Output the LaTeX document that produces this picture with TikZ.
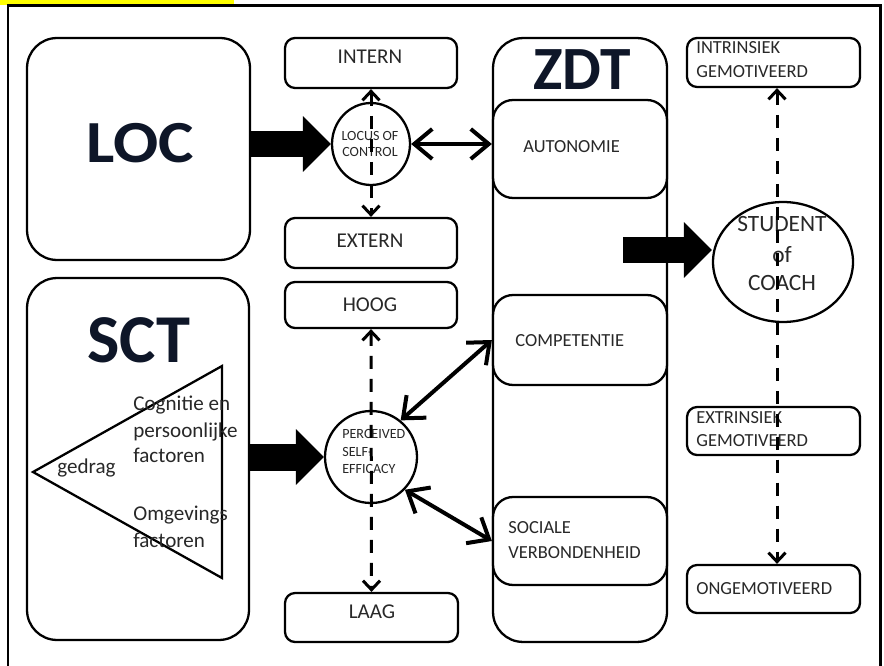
\documentclass[tikz,border=0pt]{standalone}
\usepackage{fontspec}
\usepackage{graphicx}
\setmainfont{Carlito}
\usetikzlibrary{arrows.meta,shapes.geometric}
\definecolor{navy}{RGB}{14,22,40}
\definecolor{txt}{RGB}{40,40,40}
\definecolor{hl}{RGB}{255,255,0}
\begin{document}
\begin{tikzpicture}[x=0.02cm,y=-0.02cm,
  box/.style={draw, line width=1.3pt, rounded corners=0.2cm, fill=white, inner sep=0pt},
  bigbox/.style={draw, line width=1.3pt, rounded corners=0.6cm, fill=white, inner sep=0pt},
  midbox/.style={draw, line width=1.3pt, rounded corners=0.4cm, fill=white, inner sep=0pt},
  circ/.style={draw, line width=1.3pt, ellipse, fill=white, inner sep=0pt},
  lbl/.style={inner sep=0pt, text=txt, font=\fontsize{10.5}{12}\selectfont},
  lblbig/.style={inner sep=0pt, text=txt, font=\fontsize{12}{14}\selectfont},
  lblsmall/.style={inner sep=0pt, text=txt, font=\fontsize{8}{9}\selectfont},
  title/.style={inner sep=0pt, text=navy, font=\bfseries},
  bigarrow/.style={line width=0.54cm, line cap=butt, -{Triangle[length=0.56cm,width=1.12cm,line width=0pt]}},
  dblarrow/.style={line width=0.08cm, {Straight Barb[length=0.36cm,width=0.6cm]}-{Straight Barb[length=0.36cm,width=0.6cm]}},
  dsharrow/.style={line width=0.06cm, dash pattern=on 0.26cm off 0.2cm, {Straight Barb[length=0.18cm,width=0.34cm]}-{Straight Barb[length=0.18cm,width=0.34cm]}}
]
\useasboundingbox (0,0) rectangle (884,665);
\fill[hl] (0,0) rectangle (234,5);
\draw[line width=0.06cm] (8,690) -- (8,5.5) -- (880,5.5) -- (880,690);

% left big boxes
\node[bigbox, minimum width=4.46cm, minimum height=4.44cm] (loc) at (138.5,149) {};
\node[bigbox, minimum width=4.44cm, minimum height=7.24cm] (sct) at (138,459) {};
\node[title, font=\bfseries\fontsize{34}{36}\selectfont] (loct) at (140,143) {\scalebox{1.12}[1]{LOC}};
\node[title, font=\bfseries\fontsize{39}{40}\selectfont] (sctt) at (139,340) {SCT};
\draw[line width=1.3pt] (33,472) -- (222,366) -- (222,578) -- cycle;
\node[lblbig, anchor=base west] (t1) at (133,410) {Cognitie en};
\node[lblbig, anchor=base west] (t2) at (133,437) {persoonlijke};
\node[lblbig, anchor=base west] (t3) at (133,462) {factoren};
\node[lblbig, anchor=base west] (t4) at (57,473) {gedrag};
\node[lblbig, anchor=base west] (t5) at (133,520) {Omgevings};
\node[lblbig, anchor=base west] (t6) at (133,547) {factoren};

% middle column
\node[box, minimum width=3.44cm, minimum height=1.0cm] (intern) at (371,63) {};
\node[box, minimum width=3.44cm, minimum height=1.0cm] (extern) at (371,243) {};
\node[box, minimum width=3.44cm, minimum height=0.92cm] (hoog) at (371,305) {};
\node[box, minimum width=3.46cm, minimum height=0.98cm] (laag) at (371.5,617.5) {};
\node[lblbig] (internt) at (370,57) {INTERN};
\node[lblbig] (externt) at (370,241) {EXTERN};
\node[lblbig] (hoogt) at (370,305) {HOOG};
\node[lblbig] (laagt) at (372,612) {LAAG};

\node[circ, minimum width=1.56cm, minimum height=1.64cm] (locus) at (371,144) {};
\node[lblsmall] (locust1) at (370,135.5) {LOCUS OF};
\node[lblsmall] (locust2) at (370,151.5) {CONTROL};
\node[circ, minimum width=1.84cm, minimum height=1.84cm] (perc) at (371,457) {};
\node[lblsmall, anchor=west] (perct1) at (342,433.5) {PERCEIVED};
\node[lblsmall, anchor=west] (perct2) at (342,451.5) {SELF-};
\node[lblsmall, anchor=west] (perct3) at (342,468.5) {EFFICACY};

% ZDT column
\node[bigbox, minimum width=3.48cm, minimum height=12.08cm] (zdt) at (580,340) {};
\node[title, font=\bfseries\fontsize{35}{36}\selectfont] (zdtt) at (582,70) {ZDT};
\node[midbox, minimum width=3.48cm, minimum height=1.96cm] (auto) at (580,149) {};
\node[midbox, minimum width=3.48cm, minimum height=1.8cm] (comp) at (580,340) {};
\node[midbox, minimum width=3.48cm, minimum height=1.76cm] (soc) at (580,541) {};
\node[lbl, anchor=west] (autot) at (523,147) {AUTONOMIE};
\node[lbl, anchor=west] (compt) at (515,340.5) {COMPETENTIE};
\node[lbl, anchor=west] (soct1) at (508,527.5) {SOCIALE};
\node[lbl, anchor=west] (soct2) at (508,552.5) {VERBONDENHEID};

% right column
\node[box, minimum width=3.46cm, minimum height=0.98cm] (intr) at (773.5,62.5) {};
\node[box, minimum width=3.46cm, minimum height=0.96cm] (extr) at (773.5,431) {};
\node[box, minimum width=3.46cm, minimum height=0.96cm] (onge) at (773.5,589) {};
\node[lbl, anchor=west] (intrt1) at (696,48) {INTRINSIEK};
\node[lbl, anchor=west] (intrt2) at (696,72) {GEMOTIVEERD};
\node[lbl, anchor=west] (extrt1) at (696,417.5) {EXTRINSIEK};
\node[lbl, anchor=west] (extrt2) at (696,440.5) {GEMOTIVEERD};
\node[lbl, anchor=west] (onget) at (696,589) {ONGEMOTIVEERD};

\node[circ, minimum width=2.8cm, minimum height=2.4cm] (stud) at (783,262) {};
\node[inner sep=0pt, text=txt, font=\fontsize{13.3}{15}\selectfont] (studt1) at (782,224.5) {STUDENT};
\node[inner sep=0pt, text=txt, font=\fontsize{13.3}{15}\selectfont, anchor=base] (studt2) at (782,262) {of};
\node[inner sep=0pt, text=txt, font=\fontsize{13.3}{15}\selectfont] (studt3) at (782,282.5) {COACH};

% big arrows
\draw[bigarrow] (loc.east |- locus.west) -- (locus.west);
\draw[bigarrow] (sct.east |- perc.west) -- (perc.west);
\coordinate (zs) at (623,250);
\draw[bigarrow] (zs) -- (zs -| stud.west);

% double arrows
\draw[dblarrow] (locus.east) -- (locus.east -| auto.west);
\draw[dblarrow] (perc.51) -- (comp.west);
\draw[dblarrow] (perc.-44) -- (soc.west);

% dashed arrows
\draw[dsharrow] (intern.south) -- (extern.north);
\draw[dsharrow] (hoog.south) -- (laag.north);
\draw[dsharrow] ([xshift=0.07cm]intr.south) -- ([xshift=0.07cm]onge.north);
\end{tikzpicture}
\end{document}
